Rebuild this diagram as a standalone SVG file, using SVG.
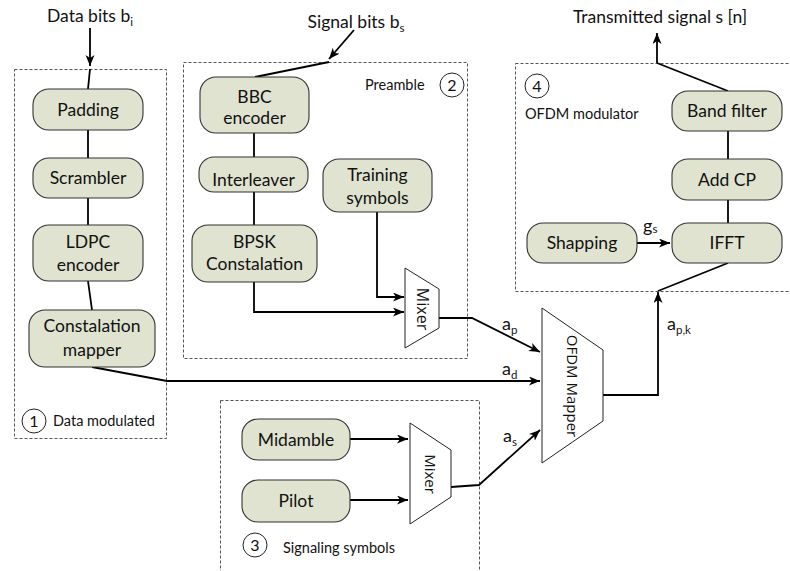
<svg xmlns="http://www.w3.org/2000/svg" width="790" height="571" viewBox="0 0 790 571">
  <style>
    .bg { fill: #ffffff; }
    .zone { fill: none; stroke: #555555; stroke-width: 1; stroke-dasharray: 3 2; }
    .node rect { fill: #dfe3cf; stroke: #333333; stroke-width: 1.1; }
    .lbl { font-family: Lato, "Liberation Sans", sans-serif; font-size: 17.5px; fill: #111111; text-anchor: middle; }
    .title { font-family: Lato, "Liberation Sans", sans-serif; font-size: 17.5px; fill: #111111; text-anchor: middle; }
    .small { font-family: Lato, "Liberation Sans", sans-serif; font-size: 14.5px; fill: #111111; }
    .num { font-family: Lato, "Liberation Sans", sans-serif; font-size: 16px; fill: #111111; text-anchor: middle; }
    .ring { fill: none; stroke: #222222; stroke-width: 1; }
    .sym { font-family: Lato, "Liberation Sans", sans-serif; font-size: 18px; fill: #111111; }
    .sub { font-size: 11.5px; }
    .trap { fill: #ffffff; stroke: #222222; stroke-width: 1; }
    .vt { font-family: "Open Sans", "DejaVu Sans", sans-serif; fill: #111111; text-anchor: middle; }
    .wire { fill: none; stroke: #000000; stroke-width: 1.8; }
    .arrow { marker-end: url(#head); }
  </style>
  <defs>
    <marker id="head" markerUnits="userSpaceOnUse" markerWidth="12" markerHeight="10" refX="11" refY="4.5" orient="auto">
      <path d="M0,0 L11,4.5 L0,9 L3,4.5 z" fill="#000000"/>
    </marker>
  </defs>

  <rect class="bg" x="0" y="0" width="790" height="571"/>

  <!-- dashed grouping zones -->
  <g id="zones">
    <rect class="zone" x="14.5" y="69.5" width="152" height="369"/>
    <rect class="zone" x="183.5" y="62.5" width="284" height="296"/>
    <rect class="zone" x="515.5" y="63.5" width="280" height="228"/>
    <rect class="zone" x="220.5" y="400.5" width="259" height="180"/>
  </g>

  <!-- zone captions -->
  <g id="zone-labels">
    <circle class="ring" cx="34" cy="421" r="12"/>
    <text class="num" x="34" y="427">1</text>
    <text class="small" x="53" y="426">Data modulated</text>

    <text class="small" x="365" y="90" font-size="15">Preamble</text>
    <circle class="ring" cx="452" cy="85" r="12"/>
    <text class="num" x="452" y="91">2</text>

    <circle class="ring" cx="537" cy="86" r="12"/>
    <text class="num" x="537" y="92">4</text>
    <text class="small" x="525" y="119" font-size="13">OFDM modulator</text>

    <circle class="ring" cx="255" cy="545" r="12"/>
    <text class="num" x="255" y="551">3</text>
    <text class="small" x="283" y="553">Signaling symbols</text>
  </g>

  <!-- input / output titles -->
  <g id="titles">
    <text class="title" x="90" y="22">Data bits b<tspan class="sub" dy="4">i</tspan></text>
    <text class="title" x="356" y="28">Signal bits b<tspan class="sub" dy="4">s</tspan></text>
    <text class="title" x="660" y="23" font-size="18.5">Transmitted signal s [n]</text>
  </g>

  <!-- connectors -->
  <g id="connectors">
    <line class="wire arrow" x1="90" y1="28" x2="90" y2="66"/>
    <line class="wire" x1="90" y1="69" x2="88" y2="89"/>
    <line class="wire" x1="88" y1="130" x2="88" y2="158"/>
    <line class="wire" x1="88" y1="198" x2="88" y2="225"/>
    <line class="wire" x1="88" y1="281" x2="92" y2="310"/>
    <polyline class="wire arrow" points="92,367 167,381 540,381"/>

    <line class="wire arrow" x1="354" y1="30" x2="329" y2="59"/>
    <line class="wire" x1="329" y1="62" x2="255" y2="77"/>
    <line class="wire" x1="254" y1="133" x2="254" y2="157"/>
    <line class="wire" x1="254" y1="192" x2="254" y2="225"/>
    <polyline class="wire arrow" points="254,282 254,312 404,312"/>
    <polyline class="wire arrow" points="377,212 377,297 404,297"/>
    <polyline class="wire arrow" points="439,318 472,318 540,352"/>

    <line class="wire arrow" x1="350" y1="439" x2="408" y2="439"/>
    <line class="wire arrow" x1="350" y1="500" x2="408" y2="500"/>
    <polyline class="wire arrow" points="451,487 479,485 540,430"/>

    <polyline class="wire arrow" points="603,395 658,395 658,292"/>
    <line class="wire" x1="658" y1="291" x2="728" y2="263"/>
    <line class="wire" x1="728" y1="223" x2="728" y2="200"/>
    <line class="wire" x1="728" y1="159" x2="728" y2="131"/>
    <line class="wire arrow" x1="637" y1="243" x2="670" y2="243"/>
    <line class="wire" x1="728" y1="91" x2="657" y2="63"/>
    <line class="wire arrow" x1="657" y1="63" x2="657" y2="33"/>
  </g>

  <!-- connector labels -->
  <g id="signal-labels">
    <text class="sym" x="502" y="330">a<tspan class="sub" dy="4">p</tspan></text>
    <text class="sym" x="502" y="375">a<tspan class="sub" dy="4">d</tspan></text>
    <text class="sym" x="503" y="442">a<tspan class="sub" dy="4">s</tspan></text>
    <text class="sym" x="667" y="330">a<tspan class="sub" dy="4">p,k</tspan></text>
    <text class="sym" x="643" y="232">g<tspan class="sub" dy="1">s</tspan></text>
  </g>

  <!-- data path blocks -->
  <g id="padding" class="node">
    <rect x="33" y="89" width="110" height="41" rx="16"/>
    <text class="lbl" x="88" y="116">Padding</text>
  </g>
  <g id="scrambler" class="node">
    <rect x="33" y="158" width="110" height="40" rx="16"/>
    <text class="lbl" x="88" y="184">Scrambler</text>
  </g>
  <g id="ldpc-encoder" class="node">
    <rect x="33" y="225" width="110" height="56" rx="16"/>
    <text class="lbl" x="88" y="248">LDPC</text>
    <text class="lbl" x="88" y="271">encoder</text>
  </g>
  <g id="constalation-mapper" class="node">
    <rect x="29" y="310" width="126" height="57" rx="16"/>
    <text class="lbl" x="92" y="332">Constalation</text>
    <text class="lbl" x="92" y="356">mapper</text>
  </g>

  <!-- preamble blocks -->
  <g id="bbc-encoder" class="node">
    <rect x="200" y="77" width="109" height="56" rx="16"/>
    <text class="lbl" x="254.5" y="103">BBC</text>
    <text class="lbl" x="254.5" y="124">encoder</text>
  </g>
  <g id="interleaver" class="node">
    <rect x="199" y="157" width="109" height="35" rx="15"/>
    <text class="lbl" x="253.5" y="186">Interleaver</text>
  </g>
  <g id="training-symbols" class="node">
    <rect x="323" y="159" width="109" height="53" rx="16"/>
    <text class="lbl" x="377.5" y="181">Training</text>
    <text class="lbl" x="377.5" y="204">symbols</text>
  </g>
  <g id="bpsk-constalation" class="node">
    <rect x="192" y="225" width="125" height="57" rx="16"/>
    <text class="lbl" x="254.5" y="248">BPSK</text>
    <text class="lbl" x="254.5" y="270">Constalation</text>
  </g>
  <g id="preamble-mixer">
    <polygon class="trap" points="405,268 439,289 439,328 405,348"/>
    <text class="vt" font-size="16" transform="translate(422,309) rotate(90)" y="5.5">Mixer</text>
  </g>

  <!-- signaling blocks -->
  <g id="midamble" class="node">
    <rect x="242" y="419" width="108" height="41" rx="16"/>
    <text class="lbl" x="296" y="446">Midamble</text>
  </g>
  <g id="pilot" class="node">
    <rect x="242" y="480" width="108" height="42" rx="16"/>
    <text class="lbl" x="296" y="507">Pilot</text>
  </g>
  <g id="signaling-mixer">
    <polygon class="trap" points="410,423 451,450 451,497 410,524"/>
    <text class="vt" font-size="15" transform="translate(430,474) rotate(90)" y="5">Mixer</text>
  </g>

  <!-- OFDM mapper -->
  <g id="ofdm-mapper">
    <polygon class="trap" points="542,308 603,350 603,421 542,463"/>
    <text class="vt" font-size="15" transform="translate(572,386) rotate(90)" y="5">OFDM Mapper</text>
  </g>

  <!-- OFDM modulator blocks -->
  <g id="band-filter" class="node">
    <rect x="672" y="91" width="110" height="40" rx="16"/>
    <text class="lbl" x="727" y="117">Band filter</text>
  </g>
  <g id="add-cp" class="node">
    <rect x="672" y="159" width="110" height="41" rx="16"/>
    <text class="lbl" x="727" y="186">Add CP</text>
  </g>
  <g id="ifft" class="node">
    <rect x="672" y="223" width="110" height="40" rx="16"/>
    <text class="lbl" x="727" y="249">IFFT</text>
  </g>
  <g id="shapping" class="node">
    <rect x="527" y="223" width="110" height="40" rx="16"/>
    <text class="lbl" x="582" y="249">Shapping</text>
  </g>
</svg>
